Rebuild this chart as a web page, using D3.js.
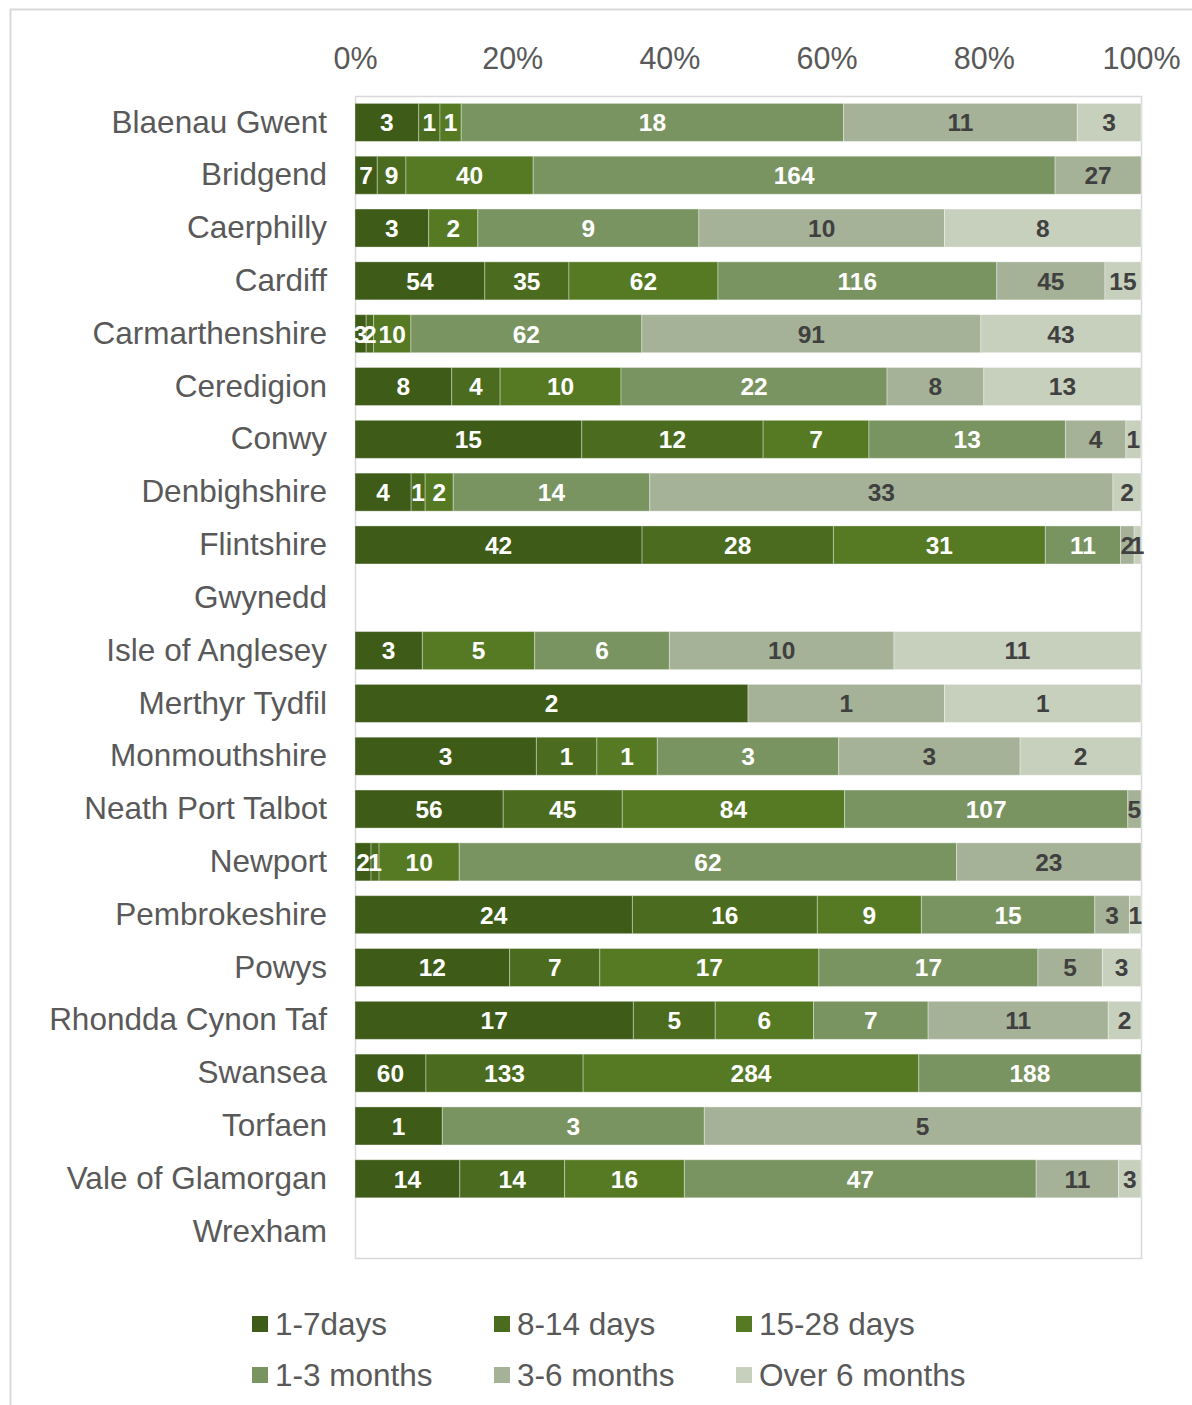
<!DOCTYPE html>
<html>
<head>
<meta charset="utf-8">
<script src="https://cdn.jsdelivr.net/npm/d3@7"></script>
<style>
  html, body { margin: 0; padding: 0; background: #fff; }
  svg { display: block; font-family: "Liberation Sans", Arial, sans-serif; }
</style>
</head>
<body>
<svg id="chart" width="1192" height="1405"></svg>
<script>
// Local authorities, top to bottom
const areas = [
  "Blaenau Gwent", "Bridgend", "Caerphilly", "Cardiff", "Carmarthenshire",
  "Ceredigion", "Conwy", "Denbighshire", "Flintshire", "Gwynedd",
  "Isle of Anglesey", "Merthyr Tydfil", "Monmouthshire", "Neath Port Talbot",
  "Newport", "Pembrokeshire", "Powys", "Rhondda Cynon Taf", "Swansea",
  "Torfaen", "Vale of Glamorgan", "Wrexham"
];

// Duration bands
const bands = ["1-7days", "8-14 days", "15-28 days", "1-3 months", "3-6 months", "Over 6 months"];

// Counts per band, one value per area (same order as areas)
const days1to7    = [3, 7, 3, 54, 3, 8, 15, 4, 42, 0, 3, 2, 3, 56, 2, 24, 12, 17, 60, 1, 14, 0];
const days8to14   = [1, 9, 0, 35, 2, 4, 12, 1, 28, 0, 0, 0, 1, 45, 1, 16, 7, 5, 133, 0, 14, 0];
const days15to28  = [1, 40, 2, 62, 10, 10, 7, 2, 31, 0, 5, 0, 1, 84, 10, 9, 17, 6, 284, 0, 16, 0];
const months1to3  = [18, 164, 9, 116, 62, 22, 13, 14, 11, 0, 6, 0, 3, 107, 62, 15, 17, 7, 188, 3, 47, 0];
const months3to6  = [11, 27, 10, 45, 91, 8, 4, 33, 2, 0, 10, 1, 3, 5, 23, 3, 5, 11, 0, 5, 11, 0];
const monthsOver6 = [3, 0, 8, 15, 43, 13, 1, 2, 1, 0, 11, 1, 2, 0, 0, 1, 3, 2, 0, 0, 3, 0];

const tickLabels = ["0%", "20%", "40%", "60%", "80%", "100%"];

const series = [days1to7, days8to14, days15to28, months1to3, months3to6, monthsOver6];
const colors = ["#3e5b17", "#4b6b1f", "#557a23", "#7a9461", "#a5b297", "#c7cfbd"];
const labelColors = ["#ffffff", "#ffffff", "#ffffff", "#ffffff", "#404040", "#404040"];

const rows = areas.map((name, i) => {
  const r = { name };
  bands.forEach((b, j) => { r[b] = series[j][i]; });
  r.total = d3.sum(series, s => s[i]);
  return r;
});

const svg = d3.select("#chart");

// outer chart frame
svg.append("rect")
  .attr("x", 10.5).attr("y", 9.5)
  .attr("width", 1200).attr("height", 1420)
  .attr("fill", "none").attr("stroke", "#d9d9d9").attr("stroke-width", 2);

const plot = { left: 355, right: 1141, top: 96, bottom: 1258 };

const x = d3.scaleLinear().domain([0, 1]).range([plot.left, plot.right]);
const y = d3.scaleBand().domain(areas).range([plot.top, plot.bottom]).paddingInner(0.28).paddingOuter(0.14);

// plot area frame
svg.append("rect")
  .attr("x", plot.left + 0.5).attr("y", plot.top + 0.5)
  .attr("width", plot.right - plot.left).attr("height", plot.bottom - plot.top)
  .attr("fill", "none").attr("stroke", "#d9d9d9").attr("stroke-width", 1.5);

const labelFont = 31.5;

// percentage axis along the top
const xAxis = d3.axisTop(x)
  .tickValues(d3.range(0, 1.0001, 0.2))
  .tickFormat((d, i) => tickLabels[i])
  .tickSize(0).tickPadding(0);
const gx = svg.append("g").attr("transform", "translate(0,69)").call(xAxis);
gx.select(".domain").remove();
gx.selectAll("text")
  .attr("font-size", 30.5).attr("fill", "#595959")
  .attr("font-family", "Liberation Sans, Arial, sans-serif");

// category axis
const yAxis = d3.axisLeft(y).tickSize(0).tickPadding(28);
const gy = svg.append("g").attr("transform", `translate(${plot.left},0)`).call(yAxis);
gy.select(".domain").remove();
gy.selectAll("text")
  .attr("font-size", labelFont).attr("fill", "#595959")
  .attr("font-family", "Liberation Sans, Arial, sans-serif");

// stacked 100% bars
const stack = d3.stack().keys(bands)
  .offset(d3.stackOffsetExpand);
const stacked = stack(rows);

const layers = svg.append("g").selectAll("g")
  .data(stacked).join("g")
  .attr("fill", (d, i) => colors[i]);

layers.selectAll("rect")
  .data(d => d.filter(s => s.data.total > 0 && (s[1] - s[0]) > 0))
  .join("rect")
  .attr("x", d => x(d[0]))
  .attr("y", d => y(d.data.name))
  .attr("width", d => x(d[1]) - x(d[0]))
  .attr("height", y.bandwidth())
  .attr("stroke", "#ffffff").attr("stroke-opacity", 0.35).attr("stroke-width", 1);

// value labels
stacked.forEach((layer, i) => {
  svg.append("g").selectAll("text")
    .data(layer.filter(s => s.data.total > 0 && s.data[bands[i]] > 0))
    .join("text")
    .attr("x", d => (x(d[0]) + x(d[1])) / 2)
    .attr("y", d => y(d.data.name) + y.bandwidth() / 2)
    .attr("dy", "0.36em")
    .attr("text-anchor", "middle")
    .attr("font-size", 24.5).attr("font-weight", "bold")
    .attr("fill", labelColors[i])
    .text(d => d.data[bands[i]]);
});

// legend
const legend = svg.append("g");
bands.forEach((b, i) => {
  const col = i % 3, row = Math.floor(i / 3);
  const lx = 252 + col * 242, ly = 1324 + row * 51;
  legend.append("rect")
    .attr("x", lx).attr("y", ly - 8).attr("width", 16).attr("height", 16)
    .attr("fill", colors[i]);
  legend.append("text")
    .attr("x", lx + 23).attr("y", ly).attr("dy", "0.36em")
    .attr("font-size", labelFont).attr("fill", "#595959")
    .text(b);
});
</script>
</body>
</html>
